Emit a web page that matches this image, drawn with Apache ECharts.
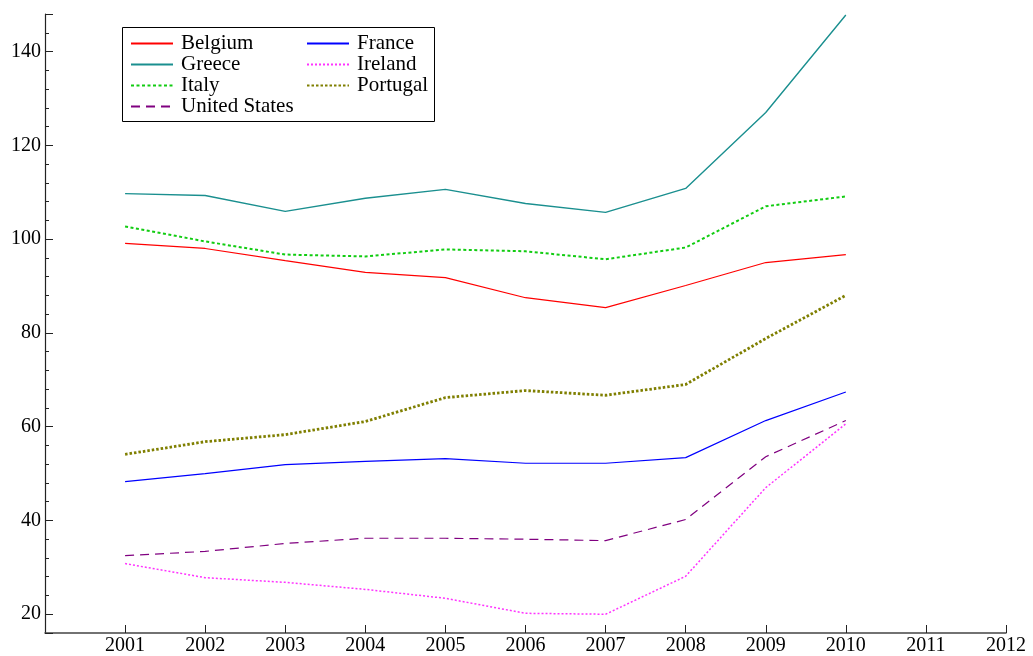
<!DOCTYPE html>
<html>
<head>
<meta charset="utf-8">
<script src="https://cdn.jsdelivr.net/npm/echarts@6/dist/echarts.min.js"></script>
<style>html,body{margin:0;padding:0;background:#fff}#c{width:1033px;height:656px}</style>
</head>
<body>
<div id="c"></div>
<script>
const years = [2001, 2002, 2003, 2004, 2005, 2006, 2007, 2008, 2009, 2010];
const belgium = [99.1, 98.0, 95.4, 92.9, 91.8, 87.5, 85.4, 90.1, 95.0, 96.7];
const france = [48.3, 50.0, 51.9, 52.6, 53.2, 52.2, 52.2, 53.4, 61.3, 67.4];
const greece = [109.7, 109.3, 105.9, 108.7, 110.6, 107.6, 105.7, 110.8, 127.0, 147.8];
const ireland = [30.8, 27.8, 26.8, 25.3, 23.4, 20.2, 20.0, 28.1, 47.0, 60.6];
const italy = [102.7, 99.5, 96.7, 96.3, 97.8, 97.4, 95.7, 98.2, 107.0, 109.1];
const portugal = [54.1, 56.8, 58.3, 61.1, 66.2, 67.7, 66.7, 69.0, 78.8, 88.0];
const unitedStates = [32.5, 33.4, 35.1, 36.2, 36.2, 36.0, 35.7, 40.2, 53.6, 61.3];

const legendLeft = ['Belgium', 'Greece', 'Italy', 'United States'];
const legendRight = ['France', 'Ireland', 'Portugal'];

function pairs(vals) { return years.map((y, i) => [y, vals[i]]); }
function line(name, vals, color, width, type) {
  return {
    name: name, type: 'line', data: pairs(vals), symbol: 'none', showSymbol: false,
    lineStyle: { color: color, width: width, type: type },
    itemStyle: { color: color },
    z: 2
  };
}

const font = 'Liberation Serif';
const chart = echarts.init(document.getElementById('c'), null, { renderer: 'canvas' });
const legendCommon = {
  orient: 'vertical', itemWidth: 42, itemHeight: 14, itemGap: 0, padding: 0,
  selectedMode: false,
  itemStyle: { opacity: 0, borderWidth: 0 },
  textStyle: { fontFamily: font, fontSize: 21, color: '#000', lineHeight: 21, padding: [0, 0, 0, 3] }
};
chart.setOption({
  animation: false,
  backgroundColor: '#fff',
  grid: { left: 45, right: 27, top: 14, bottom: 23, containLabel: false },
  xAxis: {
    type: 'value', min: 2000, max: 2012, interval: 1,
    axisLine: { show: true, lineStyle: { color: '#444', width: 1.5 } },
    axisTick: { show: true, inside: true, length: 8, lineStyle: { color: '#222', width: 1 } },
    axisLabel: { fontFamily: font, fontSize: 20, color: '#000', margin: 3, showMinLabel: false,
      formatter: v => (v === 2000 ? '' : String(v)) },
    splitLine: { show: false }
  },
  yAxis: {
    type: 'value', min: 16, max: 148, splitNumber: 7,
    axisLine: { show: true, lineStyle: { color: '#222', width: 1.2 } },
    axisTick: { show: true, inside: true, length: 8, lineStyle: { color: '#222', width: 1 } },
    minorTick: { show: true, splitNumber: 5, length: 4, lineStyle: { color: '#222', width: 1 } },
    axisLabel: { fontFamily: font, fontSize: 20, color: '#000', margin: 4, showMinLabel: false, showMaxLabel: false },
    splitLine: { show: false }
  },
  legend: [
    Object.assign({}, legendCommon, { left: 130, top: 33, data: legendLeft }),
    Object.assign({}, legendCommon, { left: 306, top: 33, data: legendRight })
  ],
  graphic: [{
    type: 'rect', left: 120, top: 25, z: 100, silent: true,
    shape: { width: 312, height: 94 },
    style: { fill: 'none', stroke: '#000', lineWidth: 1 }
  }],
  series: [
    line('Belgium', belgium, '#ff0000', 1.2, 'solid'),
    line('France', france, '#0000ff', 1.2, 'solid'),
    line('Greece', greece, '#1a8f8f', 1.4, 'solid'),
    line('Ireland', ireland, '#ff33ff', 1.5, [2, 2]),
    line('Italy', italy, '#11cc11', 2, [3, 2.5]),
    line('Portugal', portugal, '#7f7f00', 2.8, [2.5, 2]),
    line('United States', unitedStates, '#800080', 1.2, [9, 6])
  ]
});
</script>
</body>
</html>
